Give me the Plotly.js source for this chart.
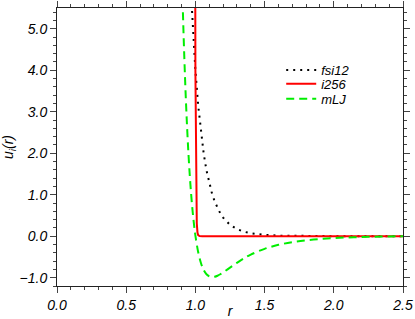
<!DOCTYPE html>
<html><head><meta charset="utf-8">
<script src="https://cdn.plot.ly/plotly-3.0.1.min.js"></script>
<style>html,body{margin:0;padding:0;background:#fff}#c{width:415px;height:319px}</style>
</head><body><div id="c"></div>
<script>
// fsi12 series
const rFsi = [0.97,0.98,0.99,1.00,1.02,1.04,1.06,1.08,1.10,1.12,1.14,1.16,1.18,1.20,1.25,1.30,1.35,1.40,1.50,1.60,1.70,1.80,1.90,2.00,2.20,2.50];
const uFsi = [5.765,5.097,4.513,4.0,3.154,2.498,1.988,1.588,1.275,1.027,0.830,0.674,0.549,0.449,0.275,0.172,0.109,0.0706,0.0308,0.0142,0.0069,0.0035,0.0018,0.0010,0.0003,0.0001];
// i256 series
const rI256 = [0.985,0.99,0.995,1.0,1.005,1.01,1.015,1.02,1.03,1.05,1.5,2.0,2.5];
const uI256 = [191,52.4,14.4,4.0,1.11,0.313,0.088,0.025,0.002,0,0,0,0];
// mLJ series
const rMLJ = [0.90,0.91,0.92,0.93,0.94,0.95,0.96,0.97,0.98,0.99,1.00,1.02,1.04,1.06,1.08,1.10,1.12,1.14,1.16,1.18,1.20,1.25,1.30,1.35,1.40,1.50,1.60,1.70,1.80,1.90,2.00,2.10,2.20,2.30,2.40,2.50];
const uMLJ = [6.653,5.376,4.299,3.390,2.623,1.977,1.435,0.979,0.598,0.280,0.016,-0.382,-0.647,-0.816,-0.916,-0.967,-0.984,-0.976,-0.952,-0.917,-0.875,-0.757,-0.641,-0.535,-0.444,-0.304,-0.208,-0.143,-0.098,-0.067,-0.045,-0.030,-0.019,-0.011,-0.005,0.0];
const names = ["fsi12","i256","mLJ"];
const xTickVals = [0,0.5,1.0,1.5,2.0,2.5];
const yTickVals = [-1,0,1,2,3,4,5];

const F = "Liberation Sans, Arial, Helvetica, sans-serif";
const traces = [
  {x:rFsi,y:uFsi,name:names[0],mode:'lines',legend:'legend',line:{color:'#000',dash:'2px,5px',width:2}},
  {x:rI256,y:uI256,name:names[1],mode:'lines',legend:'legend2',line:{color:'#ff0000',width:2}},
  {x:rMLJ,y:uMLJ,name:names[2],mode:'lines',legend:'legend3',line:{color:'#00ee00',dash:'8px,5px',width:2,shape:'spline'}}
];
const axCommon = {
  showgrid:false, zeroline:false, showline:true, linecolor:'#222', linewidth:1,
  mirror:'ticks', ticks:'outside', ticklen:6, tickcolor:'#444', tickwidth:1,
  tickfont:{family:F,size:14,color:'#000',style:'italic'}, tickformat:'.1f'
};
function leg(y){
  return {x:0.648,y:y,xanchor:'left',yanchor:'middle',bgcolor:'rgba(0,0,0,0)',
    font:{family:F,size:13,color:'#000',style:'italic'}};
}
const layout = {
  width:415,height:319,
  margin:{l:57,r:12,t:8,b:33},
  paper_bgcolor:'#fff',plot_bgcolor:'#fff',
  showlegend:true,
  legend:leg(0.777), legend2:leg(0.727), legend3:leg(0.673),
  xaxis:Object.assign({},axCommon,{range:[0,2.5],tickvals:xTickVals,
    minor:{dtick:0.1,ticks:'outside',ticklen:3,tickcolor:'#444'},
    title:{text:'r',font:{family:F,size:14,color:'#000',style:'italic'},standoff:5}}),
  yaxis:Object.assign({},axCommon,{range:[-1.2,5.5],tickvals:yTickVals,
    minor:{dtick:0.2,ticks:'outside',ticklen:3,tickcolor:'#444'},
    title:{text:'u<sub>i</sub>(r)',font:{family:F,size:14,color:'#000',style:'italic'},standoff:8}})
};
Plotly.newPlot('c',traces,layout,{displayModeBar:false,staticPlot:true});
</script></body></html>
